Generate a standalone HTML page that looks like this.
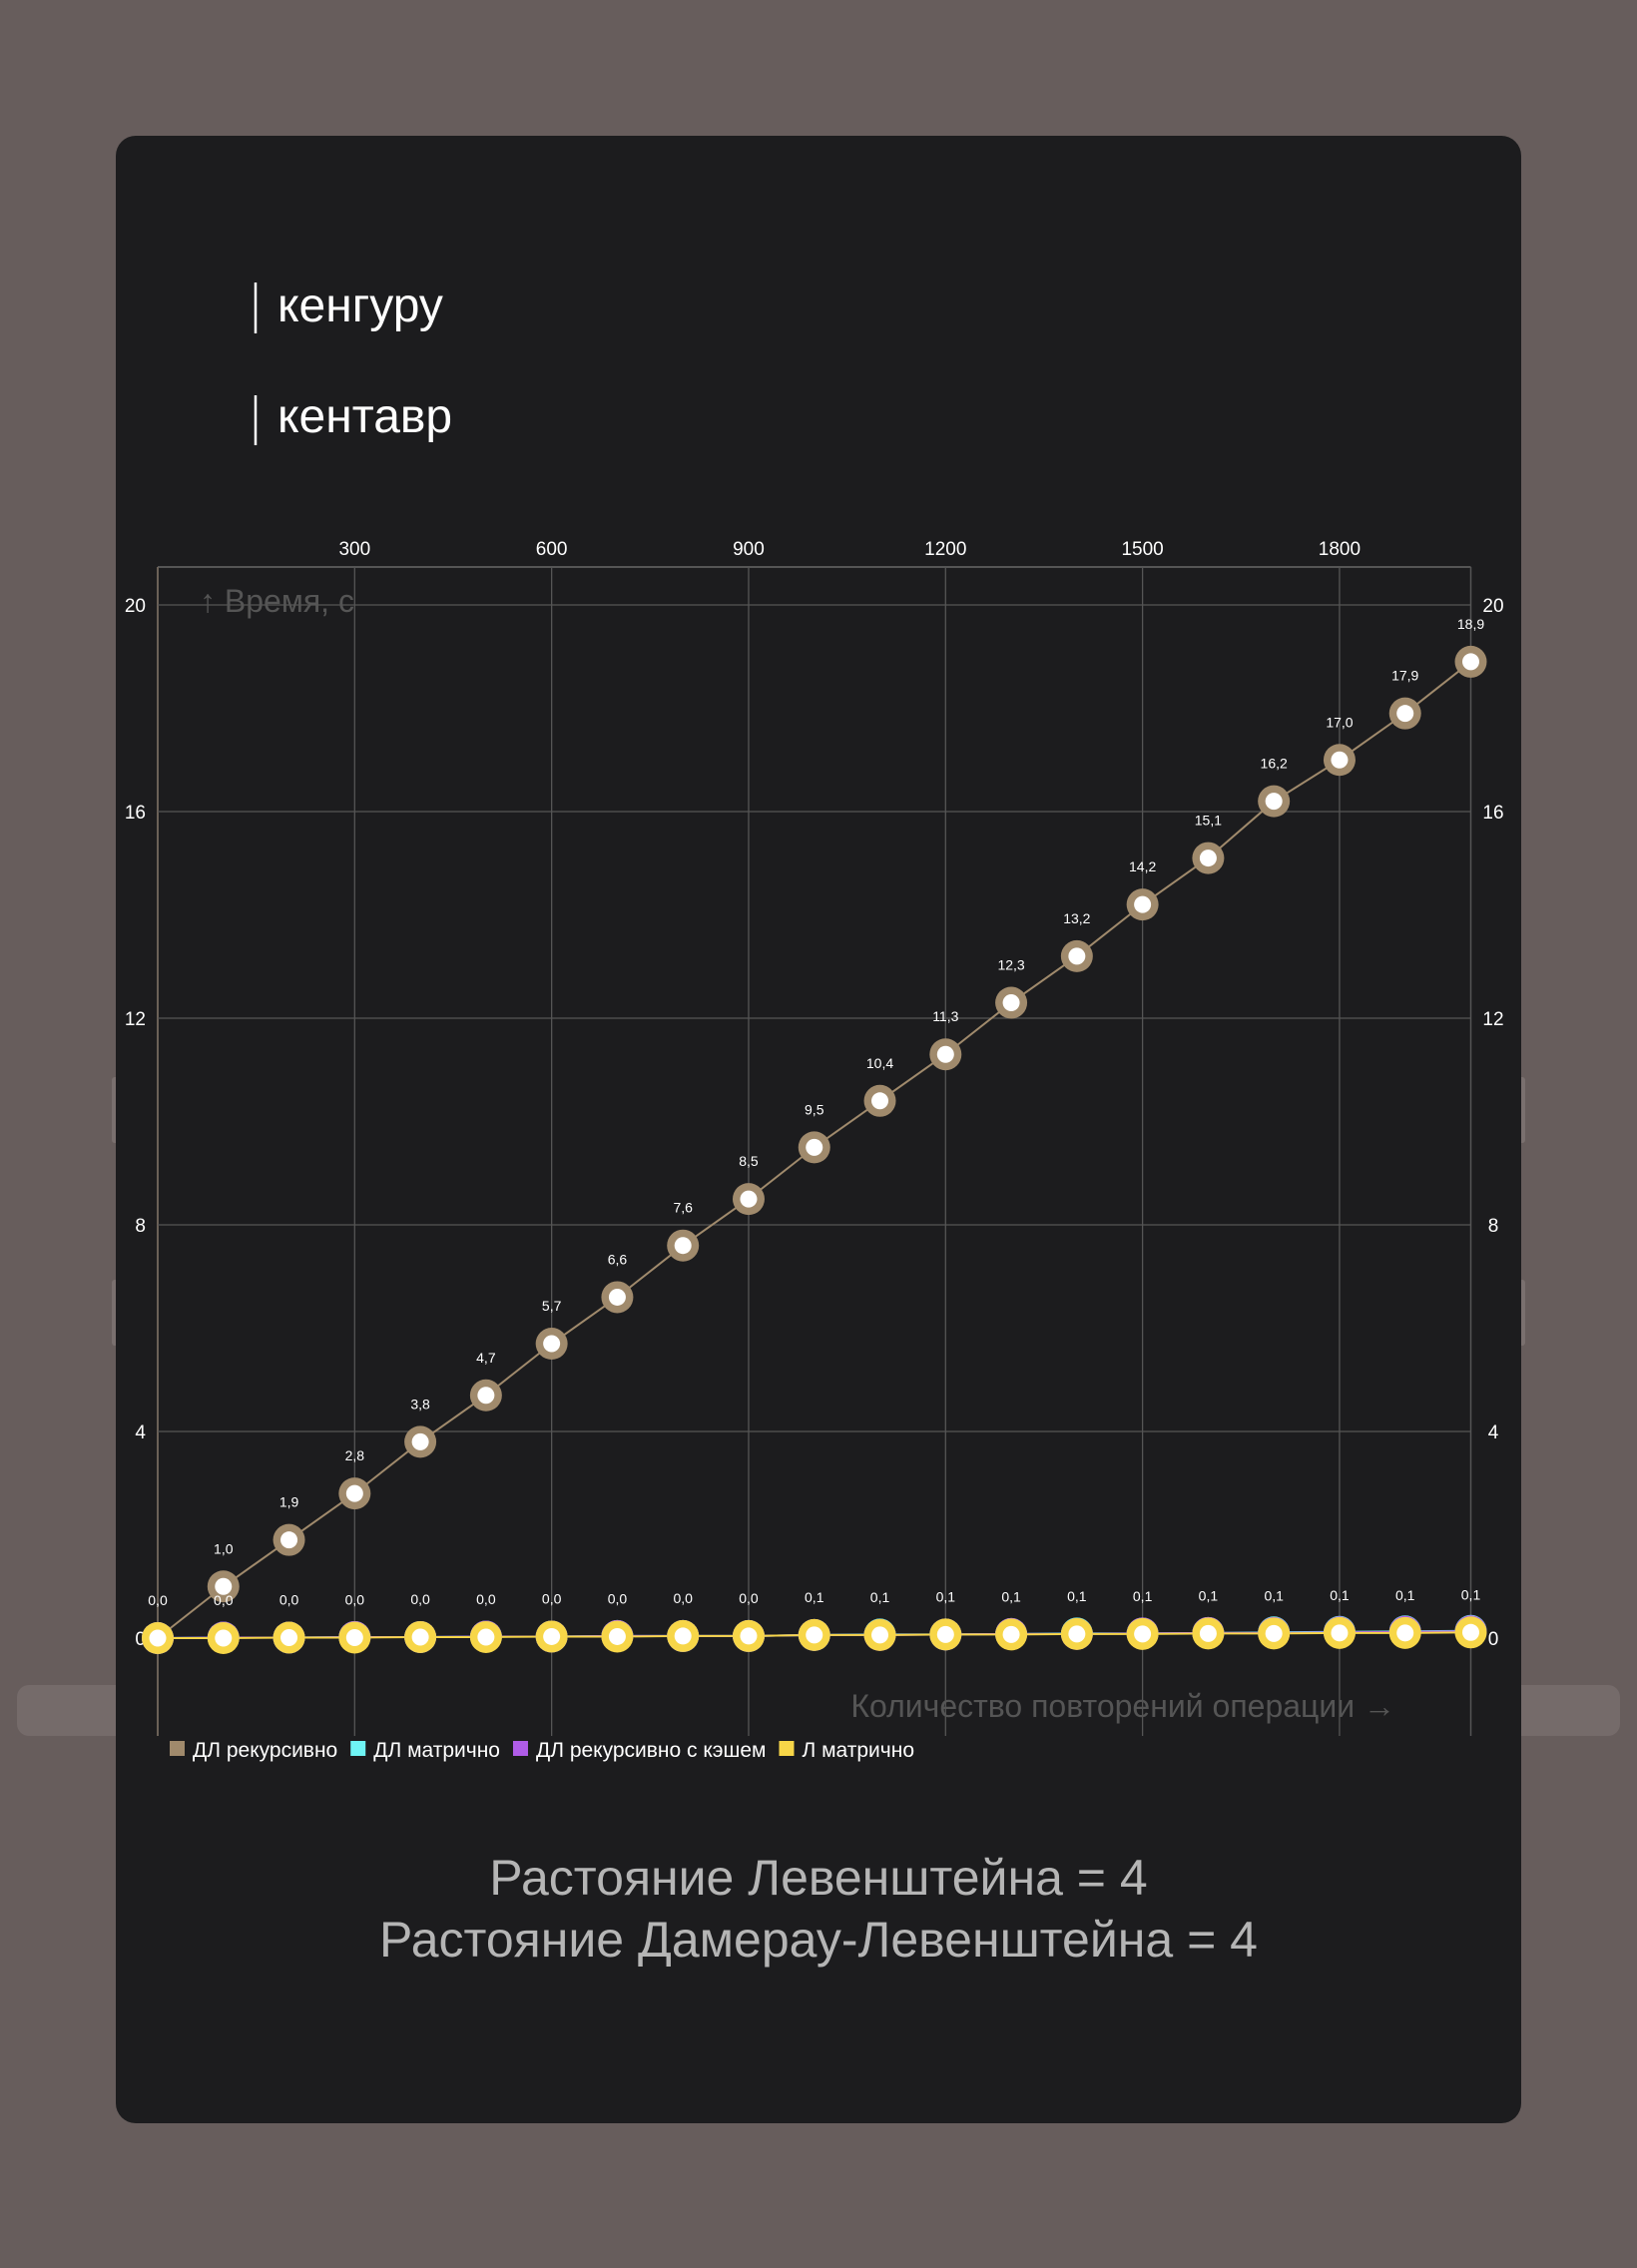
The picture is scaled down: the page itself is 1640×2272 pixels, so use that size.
<!DOCTYPE html>
<html><head><meta charset="utf-8"><style>
html,body{margin:0;padding:0;background:#675d5c;}
svg{display:block;font-family:"Liberation Sans",sans-serif;}
</style></head><body>
<svg id="chart" width="1640" height="2272" viewBox="0 0 1640 2272">
<rect x="0" y="0" width="1640" height="2272" fill="#675d5c"/>
<rect x="17" y="1688" width="1606" height="51" rx="12" fill="#756b6a"/>
<rect x="112" y="1079" width="8" height="66" rx="3" fill="#7a706f"/>
<rect x="112" y="1282" width="8" height="66" rx="3" fill="#7a706f"/>
<rect x="1520" y="1079" width="8" height="66" rx="3" fill="#7a706f"/>
<rect x="1520" y="1282" width="8" height="66" rx="3" fill="#7a706f"/>
<rect x="116" y="136" width="1408" height="1991" rx="20" fill="#1c1c1e"/>
<g>
<line x1="256" y1="283" x2="256" y2="334" stroke="#fff" stroke-width="2.5"/>
<text x="278" y="322" fill="#fff" font-size="48">кенгуру</text>
<line x1="256" y1="396" x2="256" y2="446" stroke="#fff" stroke-width="2.5"/>
<text x="278" y="433" fill="#fff" font-size="48">кентавр</text>
</g>
<g id="plot"></g>
<text x="820" y="1898" fill="#b5b5b5" font-size="50" text-anchor="middle">Растояние Левенштейна = 4</text>
<text x="820" y="1960" fill="#b5b5b5" font-size="50" text-anchor="middle">Растояние Дамерау-Левенштейна = 4</text>
</svg>
<script>
const xValues=[0,100,200,300,400,500,600,700,800,900,1000,1100,1200,1300,1400,1500,1600,1700,1800,1900,2000];
const dlRecursive=[0,1.0,1.9,2.8,3.8,4.7,5.7,6.6,7.6,8.5,9.5,10.4,11.3,12.3,13.2,14.2,15.1,16.2,17.0,17.9,18.9];
const dlMatrix=[0,0.01,0.01,0.02,0.02,0.03,0.03,0.04,0.04,0.04,0.06,0.07,0.07,0.08,0.09,0.09,0.10,0.11,0.12,0.13,0.14];
const dlCached=[0,0.01,0.01,0.02,0.02,0.03,0.03,0.04,0.04,0.04,0.06,0.06,0.07,0.08,0.08,0.09,0.10,0.10,0.11,0.12,0.13];
const lMatrix=[0,0.00,0.01,0.01,0.02,0.02,0.03,0.03,0.04,0.04,0.06,0.06,0.07,0.07,0.08,0.08,0.09,0.09,0.10,0.10,0.11];
const xTicks=[300,600,900,1200,1500,1800];
const yTicks=[0,4,8,12,16,20];
const legendLabels=["ДЛ рекурсивно","ДЛ матрично","ДЛ рекурсивно с кэшем","Л матрично"];

const NS="http://www.w3.org/2000/svg";
const L=158,R=1473.5,T=568,Y0=1641,Y20=606,GB=1739;
const xs=v=>L+(v/2000)*(R-L);
const ys=v=>Y0-(v/20)*(Y0-Y20);
const g=document.getElementById('plot');
function el(tag,attrs,parent){const e=document.createElementNS(NS,tag);for(const k in attrs)e.setAttribute(k,attrs[k]);(parent||g).appendChild(e);return e;}

let e=el('line',{x1:L,y1:T,x2:R,y2:T,stroke:'#555',"stroke-width":2});


e=el('line',{x1:L,y1:T,x2:L,y2:GB,stroke:'#6b6157',"stroke-width":2});


e=el('line',{x1:R,y1:T,x2:R,y2:GB,stroke:'#555',"stroke-width":1.5});



yTicks.forEach(t=>{
  if(t>0){const ln=el('line',{x1:L,y1:ys(t),x2:R,y2:ys(t),stroke:'#555',"stroke-width":1.3});
  
  }
  const a=el('text',{x:146,y:ys(t)+7,fill:'#fff',"font-size":19,"text-anchor":'end'});a.textContent=t;
  
  
  const b=el('text',{x:1496,y:ys(t)+7,fill:'#fff',"font-size":19,"text-anchor":'middle'});b.textContent=t;
  
  
});
xTicks.forEach(t=>{
  const ln=el('line',{x1:xs(t),y1:T,x2:xs(t),y2:GB,stroke:'#555',"stroke-width":1.3});
  
  
  const a=el('text',{x:xs(t),y:556,fill:'#fff',"font-size":19,"text-anchor":'middle'});a.textContent=t;
  
  
});
e=el('text',{x:200,y:613,fill:'#555',"font-size":32});e.textContent='↑ Время, с';


e=el('text',{x:1398,y:1720,fill:'#555',"font-size":32,"text-anchor":'end'});e.textContent='Количество повторений операции →';



const series=[[dlRecursive,'#a08a6c','series-dl-recursive'],[dlMatrix,'#6ff5f5','series-dl-matrix'],[dlCached,'#b05ce8','series-dl-cached'],[lMatrix,'#f7d648','series-l-matrix']];
series.forEach(([vals,col,name])=>{
  const pts=vals.map((v,i)=>xs(xValues[i])+','+ys(v)).join(' ');
  const pl=el('polyline',{points:pts,fill:'none',stroke:col,"stroke-width":2});
  
  
});
series.forEach(([vals,col,name])=>{
  vals.forEach((v,i)=>{
    const c=el('circle',{cx:xs(xValues[i]),cy:ys(v),r:16,fill:col});
    
    
    const w=el('circle',{cx:xs(xValues[i]),cy:ys(v),r:8.5,fill:'#fff'});
    
    
  });
});
[[dlRecursive,'dl-recursive'],[lMatrix,'l-matrix']].forEach(([vals,name])=>{
  vals.forEach((v,i)=>{
    if(name==='dl-recursive'&&i===0)return;
    const t=el('text',{x:xs(xValues[i]),y:ys(v)-33,fill:'#fff',"font-size":14,"text-anchor":'middle'});
    t.textContent=v.toFixed(1).replace('.',',');
    
    
  });
});
const lcols=['#a08a6c','#6ff5f5','#b05ce8','#f7d648'];
let lx=170;
legendLabels.forEach((lab,i)=>{
  const r=el('rect',{x:lx,y:1744,width:15,height:15,fill:lcols[i]});
  
  
  const t=el('text',{x:lx+23,y:1760,fill:'#fff',"font-size":21});t.textContent=lab;
  
  
  lx+=23+t.getComputedTextLength()+13;
});
</script>
</body></html>
